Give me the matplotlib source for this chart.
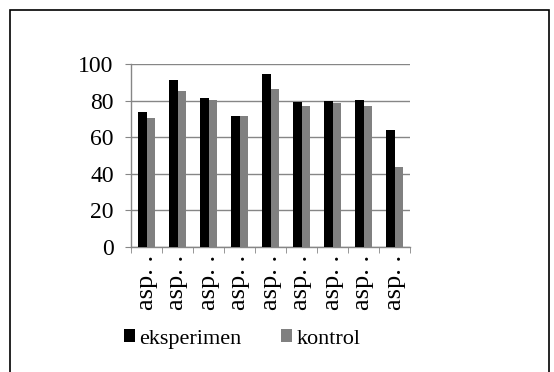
import matplotlib
matplotlib.use("Agg")
import matplotlib.pyplot as plt
from matplotlib.patches import Rectangle
import numpy as np

# data
categories = ["asp. ."] * 9
eksperimen = [73.5, 91.1, 81.2, 71.5, 94.7, 79.4, 79.9, 80.5, 63.7]
kontrol = [70.3, 85.0, 80.1, 71.5, 86.3, 76.8, 78.6, 76.8, 43.8]

plt.rcParams['font.family'] = ['Liberation Serif', 'DejaVu Serif']

W, H = 554, 372
fig = plt.figure(figsize=(W / 100, H / 100), dpi=100)

# outer chart border
fig.patches.append(Rectangle((10 / W, -0.01), 539 / W, (H - 10) / H + 0.01,
                             transform=fig.transFigure, fill=False,
                             edgecolor='black', linewidth=1.2))

ax = fig.add_axes([131 / W, 125 / H, 279 / W, 183 / H])

x = np.arange(len(categories))
bw = 0.29
b1 = ax.bar(x - bw / 2, eksperimen, bw, color='black', label='eksperimen', zorder=3)
b2 = ax.bar(x + bw / 2, kontrol, bw, color='#808080', label='kontrol', zorder=3)

ax.set_xlim(-0.5, len(categories) - 0.5)
ax.set_ylim(0, 100)
ax.set_yticks(range(0, 101, 20))
ax.yaxis.grid(True, color='#868686', linewidth=1, zorder=0)

for s in ['top', 'right']:
    ax.spines[s].set_visible(False)
for s in ['left', 'bottom']:
    ax.spines[s].set_color('#868686')
    ax.spines[s].set_linewidth(1)

ax.tick_params(axis='y', direction='out', length=4.5, color='#868686',
               labelsize=17, pad=8)
ax.set_xticks(x)
ax.set_xticklabels(categories, rotation=90, fontsize=19)
ax.tick_params(axis='x', length=0, pad=6)
ax.set_xticks(np.arange(-0.5, len(categories), 1), minor=True)
ax.tick_params(axis='x', which='minor', direction='out', length=4,
               color='#868686')

fig.legend(handles=[b1, b2], loc='center left',
           bbox_to_anchor=(124 / W, 1 - 339 / H), ncol=2, frameon=False,
           fontsize=16, handlelength=0.5, handleheight=0.5,
           handletextpad=0.2, columnspacing=1.75, borderaxespad=0,
           borderpad=0)

fig.savefig("out.png", dpi=100)
